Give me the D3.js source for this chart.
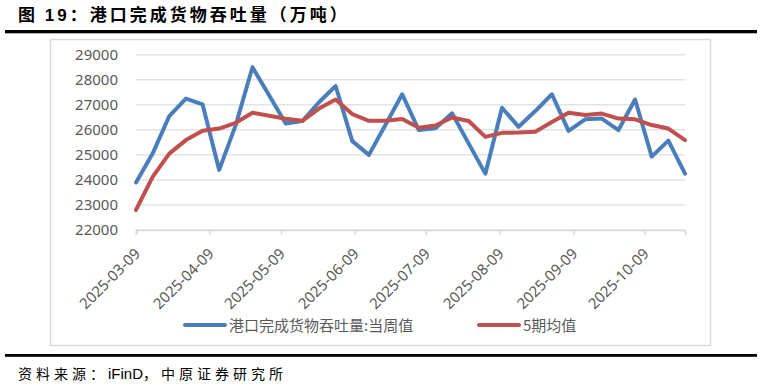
<!DOCTYPE html>
<html>
<head>
<meta charset="utf-8">
<script src="https://cdn.jsdelivr.net/npm/d3@7"></script>
<style>
  body { margin: 0; background: #fff; }
  svg { display: block; }
</style>
</head>
<body>
<div id="chart"></div>
<script>
// weekly dates
const dates = [
  '2025-03-09', '2025-03-16', '2025-03-23', '2025-03-30',
  '2025-04-06', '2025-04-13', '2025-04-20', '2025-04-27',
  '2025-05-04', '2025-05-11', '2025-05-18', '2025-05-25',
  '2025-06-01', '2025-06-08', '2025-06-15', '2025-06-22', '2025-06-29',
  '2025-07-06', '2025-07-13', '2025-07-20', '2025-07-27',
  '2025-08-03', '2025-08-10', '2025-08-17', '2025-08-24', '2025-08-31',
  '2025-09-07', '2025-09-14', '2025-09-21', '2025-09-28',
  '2025-10-05', '2025-10-12', '2025-10-19', '2025-10-26'
];

const weekly = [
  23900, 25050, 26550, 27250, 27020, 24400, 26200, 28500,
  27380, 26250, 26350, 27100, 27750, 25550, 25000, 26200,
  27420, 25990, 26060, 26660, 25450, 24250, 26880, 26120,
  26750, 27420, 25960, 26420, 26450, 25990, 27210, 24930,
  25570, 24250
];

const avg5 = [
  22800, 24120, 25050, 25590, 25960, 26050, 26280, 26680,
  26560, 26440, 26360, 26850, 27210, 26630, 26360, 26360,
  26430, 26080, 26170, 26490, 26350, 25720, 25880, 25890,
  25920, 26310, 26680, 26590, 26650, 26450, 26420, 26190,
  26050, 25590
];

const tickDates = [
  '2025-03-09', '2025-04-09', '2025-05-09', '2025-06-09',
  '2025-07-09', '2025-08-09', '2025-09-09', '2025-10-09'
];
const yTicks = [22000, 23000, 24000, 25000, 26000, 27000, 28000, 29000];

const seriesNames = ['港口完成货物吞吐量:当周值', '5期均值'];
const colors = ['#4a7ebb', '#c0504d'];

const W = 762, H = 387;
const parse = d3.timeParse('%Y-%m-%d');
const fmt = d3.timeFormat('%Y-%m-%d');
const numFont = '"Noto Sans", "Liberation Sans", sans-serif';
const cjkFont = '"Noto Sans CJK SC", "Noto Sans", sans-serif';

const svg = d3.select('#chart').append('svg')
  .attr('width', W)
  .attr('height', H);

svg.append('rect').attr('width', W).attr('height', H).attr('fill', '#fff');

// title
const title = svg.append('text')
  .attr('x', 18)
  .attr('y', 21)
  .attr('font-family', cjkFont)
  .attr('font-size', 17)
  .attr('font-weight', 700)
  .attr('letter-spacing', 3)
  .attr('fill', '#000');
title.append('tspan').text('图 ');
title.append('tspan').attr('font-family', '"Liberation Sans", Arial, sans-serif').text('19');
title.append('tspan').text('：港口完成货物吞吐量（万吨）');

svg.append('rect')
  .attr('x', 5).attr('y', 30)
  .attr('width', 752).attr('height', 3.3)
  .attr('fill', '#000');

// chart area border
svg.append('rect')
  .attr('x', 50.5).attr('y', 39.5)
  .attr('width', 660).attr('height', 306)
  .attr('fill', 'none')
  .attr('stroke', '#d9d9d9')
  .attr('stroke-width', 1.5);

// scales
const x = d3.scaleTime()
  .domain([parse(dates[0]), parse(dates[dates.length - 1])])
  .range([136, 685]);

const y = d3.scaleLinear()
  .domain([22000, 29000])
  .range([230, 54.7]);

// gridlines
svg.append('g')
  .selectAll('line')
  .data(yTicks)
  .join('line')
  .attr('x1', 136).attr('x2', 685)
  .attr('y1', d => y(d)).attr('y2', d => y(d))
  .attr('stroke', '#e3e3e3')
  .attr('stroke-width', 1.5);

// y axis
const yAxis = svg.append('g')
  .attr('transform', 'translate(136,0)')
  .call(d3.axisLeft(y).tickValues(yTicks).tickSize(0).tickPadding(18).tickFormat(d3.format('d')));
yAxis.select('.domain').remove();
yAxis.selectAll('text')
  .attr('font-family', numFont)
  .attr('font-size', 15)
  .attr('fill', '#595959');

// x axis
const xAxis = svg.append('g')
  .attr('transform', 'translate(0,230)')
  .call(d3.axisBottom(x).tickValues(tickDates.map(parse)).tickSize(5).tickFormat(fmt));
xAxis.select('.domain').attr('stroke', '#d9d9d9').attr('stroke-width', 1.5);
xAxis.selectAll('.tick line').attr('stroke', '#d9d9d9').attr('stroke-width', 1.5);
xAxis.selectAll('text')
  .attr('font-family', numFont)
  .attr('font-size', 15)
  .attr('fill', '#595959')
  .attr('text-anchor', 'end')
  .attr('transform', 'translate(1,21) rotate(-45)')
  .attr('y', 0)
  .attr('dy', '0.35em');

// lines
const line = d3.line()
  .x((d, i) => x(parse(dates[i])))
  .y(d => y(d));

[weekly, avg5].forEach((vals, k) => {
  svg.append('path')
    .datum(vals)
    .attr('d', line)
    .attr('fill', 'none')
    .attr('stroke', colors[k])
    .attr('stroke-width', 4)
    .attr('stroke-linejoin', 'round')
    .attr('stroke-linecap', 'round');
});

// legend
const legendX = [185, 479];
seriesNames.forEach((name, k) => {
  const g = svg.append('g').attr('transform', `translate(${legendX[k]},325)`);
  g.append('line')
    .attr('x1', 0).attr('x2', 40)
    .attr('stroke', colors[k])
    .attr('stroke-width', 4)
    .attr('stroke-linecap', 'round');
  g.append('text')
    .attr('x', 44)
    .attr('y', 6)
    .attr('font-family', cjkFont)
    .attr('font-size', 15)
    .attr('fill', '#595959')
    .text(name);
});

// footer
svg.append('rect')
  .attr('x', 5).attr('y', 354)
  .attr('width', 752).attr('height', 2.8)
  .attr('fill', '#000');

const source = svg.append('text')
  .attr('x', 18)
  .attr('y', 379)
  .attr('font-family', cjkFont)
  .attr('font-size', 14)
  .attr('fill', '#000');
source.append('tspan').attr('letter-spacing', 4).text('资料来源：');
source.append('tspan').attr('font-family', '"Liberation Sans", Arial, sans-serif').attr('font-size', 15).text('iFinD');
source.append('tspan').attr('letter-spacing', 4).text('，中原证券研究所');
</script>
</body>
</html>
